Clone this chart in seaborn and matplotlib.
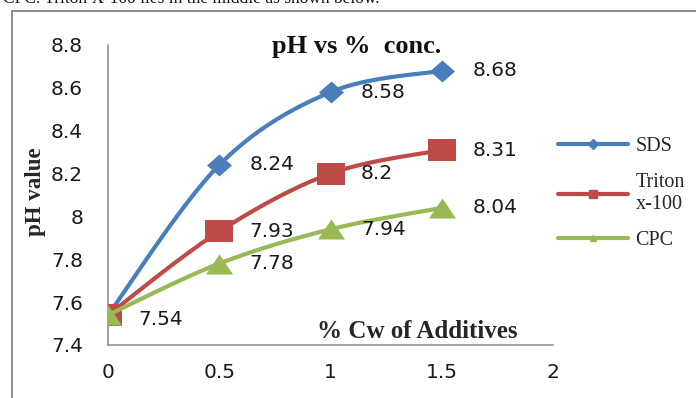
import numpy as np
import pandas as pd
import matplotlib
matplotlib.use("Agg")
import matplotlib.pyplot as plt
from matplotlib.lines import Line2D
from matplotlib.markers import MarkerStyle
from matplotlib.patches import Rectangle
import seaborn as sns

# pH readings against additive concentration (% Cw)
concentration = [0, 0.5, 1, 1.5]
sds = [7.54, 8.24, 8.58, 8.68]
triton = [7.54, 7.93, 8.20, 8.31]
cpc = [7.54, 7.78, 7.94, 8.04]

series_names = ["SDS", "Triton x-100", "CPC"]
legend_labels = ["SDS", "Triton\nx-100", "CPC"]
y_ticks = [7.4, 7.6, 7.8, 8.0, 8.2, 8.4, 8.6, 8.8]
x_ticks = [0, 0.5, 1, 1.5, 2]

colors = {"SDS": "#4A7EBB", "Triton x-100": "#BE4B48", "CPC": "#98B954"}

# slightly wide marker shapes (diamond, square, triangle)
marker_shapes = {
    "SDS": np.array([(0, 0.88), (1, 0), (0, -0.88), (-1, 0), (0, 0.88)]),
    "Triton x-100": np.array([(-1, -0.82), (1, -0.82), (1, 0.82), (-1, 0.82), (-1, -0.82)]),
    "CPC": np.array([(-1, -0.74), (1, -0.74), (0, 0.74), (-1, -0.74)]),
}
marker_pts = {"SDS": 18, "Triton x-100": 20, "CPC": 19.5}

df = pd.DataFrame({
    "conc": concentration * 3,
    "pH": sds + triton + cpc,
    "series": [s for s in series_names for _ in concentration],
})

sns.set_style("white")
plt.rcParams["font.family"] = ["DejaVu Sans"]

fig = plt.figure(figsize=(6.96, 3.98), dpi=100)
ax = fig.add_axes([108 / 696, 1 - 345 / 398, 445 / 696, 300 / 398])
ax.set_xlim(0, 2)
ax.set_ylim(7.4, 8.8)


def smooth_curve(ax, xs, ys, n=40):
    """Bezier smoothing through the points, computed in display space."""
    pts = ax.transData.transform(np.column_stack([xs, ys]))
    out = []
    last = len(pts) - 1
    for i in range(last):
        p0 = pts[max(i - 1, 0)]
        p1 = pts[i]
        p2 = pts[i + 1]
        p3 = pts[min(i + 2, last)]
        c1 = p1 + (p2 - p0) / 6
        c2 = p2 - (p3 - p1) / 6
        t = np.linspace(0, 1, n)[:, None]
        seg = ((1 - t) ** 3) * p1 + 3 * ((1 - t) ** 2) * t * c1 + 3 * (1 - t) * t ** 2 * c2 + t ** 3 * p2
        out.append(seg if i == 0 else seg[1:])
    curve = ax.transData.inverted().transform(np.vstack(out))
    return curve[:, 0], curve[:, 1]


labelled = set()
for k, name in enumerate(series_names):
    sub = df[df["series"] == name]
    cx, cy = smooth_curve(ax, sub["conc"].to_numpy(), sub["pH"].to_numpy())
    curve_df = pd.DataFrame({"conc": cx, "pH": cy})
    sns.lineplot(data=curve_df, x="conc", y="pH", ax=ax, color=colors[name],
                 lw=3, sort=False, estimator=None, zorder=3 + 2 * k,
                 solid_capstyle="round")
    sns.scatterplot(data=sub, x="conc", y="pH", ax=ax, color=colors[name],
                    marker=MarkerStyle(marker_shapes[name]),
                    s=marker_pts[name] ** 2, edgecolor=colors[name],
                    linewidth=0, zorder=4 + 2 * k)
    for xv, yv in zip(sub["conc"], sub["pH"]):
        if (xv, yv) in labelled:
            continue
        labelled.add((xv, yv))
        dy = -3 if xv == 0 else 0
        ax.annotate(f"{yv:g}", (xv, yv), xytext=(22, dy), textcoords="offset points",
                    ha="left", va="center", fontsize=14.5, color="#1a1a1a", zorder=20)

# axes styling
for side in ["top", "right"]:
    ax.spines[side].set_visible(False)
for side in ["left", "bottom"]:
    ax.spines[side].set_color("#8a8a8a")
    ax.spines[side].set_linewidth(1.1)
ax.set_yticks(y_ticks)
ax.set_yticklabels([f"{v:g}" for v in y_ticks])
ax.set_xticks(x_ticks)
ax.set_xticklabels([f"{v:g}" for v in x_ticks])
ax.tick_params(axis="both", direction="out", length=5, width=1.1, color="#8a8a8a",
               labelsize=14.5, labelcolor="#1a1a1a")
ax.tick_params(axis="y", pad=13)
ax.tick_params(axis="x", pad=8)

ax.set_xlabel("% Cw of Additives", family="Liberation Serif", fontweight="bold", fontsize=18)
ax.xaxis.set_label_coords((417 - 108) / 445, (345 - 331) / 300)
ax.xaxis.label.set_va("center")
ax.set_ylabel("pH value", family="Liberation Serif", fontweight="bold", fontsize=16.5)
ax.yaxis.set_label_coords((35 - 108) / 445, (345 - 192) / 300)
ax.yaxis.label.set_va("center")

ax.text((357 - 108) / 445, (345 - 47) / 300, "pH vs %  conc.", transform=ax.transAxes,
        ha="center", va="center", family="Liberation Serif", fontweight="bold",
        fontsize=19, color="#111111")

handles = [
    Line2D([], [], color=colors["SDS"], lw=3, marker="D", ms=5),
    Line2D([], [], color=colors["Triton x-100"], lw=3, marker="s", ms=6),
    Line2D([], [], color=colors["CPC"], lw=3, marker="^", ms=5),
]
fig.legend(handles, legend_labels, loc="upper left",
           bbox_to_anchor=(558 / 696, 1 - 137 / 398), frameon=False,
           prop={"family": "Liberation Serif", "size": 14.5},
           handlelength=3.5, handletextpad=0.35, labelspacing=0.85,
           borderpad=0, borderaxespad=0)

# chart frame and the line of page text above it
fig.patches.append(Rectangle((12 / 696, -0.05), 1.1, 1.05 - 11 / 398,
                             transform=fig.transFigure, fill=False,
                             edgecolor="#8c8c8c", lw=1.4))
fig.text(3 / 696, 1 - 3 / 398, "CPC. Triton X-100 lies in the middle as shown below.",
         ha="left", va="baseline", family="Liberation Serif", fontsize=12.5, color="#111111")

fig.savefig("out.png", dpi=100)
